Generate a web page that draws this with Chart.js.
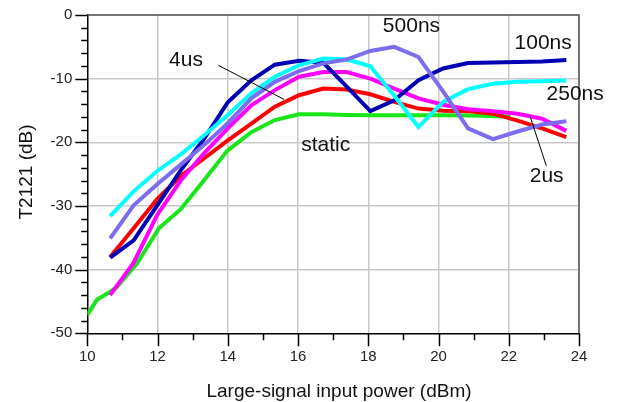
<!DOCTYPE html>
<html>
<head>
<meta charset="utf-8">
<script src="https://cdn.jsdelivr.net/npm/chart.js@4"></script>
<style>
  html, body { margin: 0; padding: 0; background: #ffffff; }
  #wrap { width: 618px; height: 402px; }
</style>
</head>
<body>
<div id="wrap"><canvas id="c" width="618" height="402"></canvas></div>
<script>
// Input power sweep (dBm) shared by the pulsed traces
const xPower = [10.65, 11.32, 11.99, 12.66, 13.33, 14.0, 14.67, 15.34, 16.03, 16.72,
                17.38, 18.06, 18.74, 19.43, 20.13, 20.84, 21.55, 22.25, 22.95, 23.64];

// T2121 (dB) for each pulse width
const t100ns = [-38.1, -35.4, -29.9, -24.4, -19.4, -13.7, -10.25, -7.8, -7.2, -7.5,
                -11.2, -15.1, -13.4, -10.25, -8.4, -7.55, -7.45, -7.4, -7.3, -7.05];
const t250ns = [-31.6, -27.7, -24.5, -21.9, -18.9, -15.7, -12.3, -9.7, -7.9, -6.85,
                -6.95, -8.05, -12.7, -17.6, -13.65, -11.65, -10.8, -10.5, -10.4, -10.3];
const t500ns = [-35.1, -29.9, -26.6, -23.5, -20.4, -17.0, -13.1, -10.5, -8.8, -7.6,
                -7.0, -5.65, -5.0, -6.6, -12.0, -17.8, -19.5, -18.3, -17.2, -16.7];
const t2us   = [-44.0, -38.9, -31.4, -26.0, -21.7, -17.8, -14.2, -11.8, -9.7, -8.95,
                -8.95, -10.0, -11.55, -13.1, -14.1, -14.8, -15.1, -15.5, -16.3, -18.2];
const t4us   = [-38.0, -33.5, -28.9, -25.3, -22.5, -19.7, -17.05, -14.4, -12.6, -11.55,
                -11.7, -12.45, -13.65, -14.7, -15.05, -15.1, -15.5, -16.6, -17.8, -19.2];

// Static (CW) measurement has its own sweep points
const xStatic = [10.0, 10.28, 10.62, 10.85, 11.42, 12.04, 12.66, 13.33, 13.99, 14.67,
                 15.34, 16.03, 16.72, 17.38, 18.06, 18.74, 19.43, 20.13, 20.84, 21.55, 22.05];
const tStatic = [-47.1, -44.7, -43.6, -42.7, -39.0, -33.5, -30.5, -25.9, -21.3, -18.4,
                 -16.5, -15.6, -15.6, -15.7, -15.75, -15.75, -15.75, -15.75, -15.8, -15.85, -15.95];

// Axis tick values
const xTicks = [10, 12, 14, 16, 18, 20, 22, 24];
const yTicks = [0, -10, -20, -30, -40, -50];

// Curve labels: [text, x (dBm), y (dB)]
const curveLabels = [
  ['500ns', 19.23, -1.8],
  ['100ns', 22.98, -4.4],
  ['250ns', 23.89, -12.45],
  ['4us', 12.81, -7.1],
  ['static', 16.79, -20.45],
  ['2us', 23.08, -25.3]
];
// Leader lines: [x1, y1, x2, y2]
const leaders = [
  [13.73, -7.9, 15.6, -13.25],
  [22.6, -15.8, 23.07, -23.7]
];

const pts = (xs, ys) => ys.map((v, i) => ({ x: xs[i], y: v }));

function series(data, color) {
  return {
    data: data,
    borderColor: color,
    backgroundColor: color,
    borderWidth: 4,
    pointRadius: 0,
    tension: 0,
    fill: false,
    borderJoinStyle: 'miter',
    borderCapStyle: 'butt'
  };
}

const FONT = '"Liberation Sans", Arial, sans-serif';

const decor = {
  id: 'decor',
  beforeDatasetsDraw(chart) {
    const ctx = chart.ctx;
    const a = chart.chartArea;
    ctx.save();
    ctx.strokeStyle = '#555555';
    ctx.lineWidth = 1.5;
    ctx.beginPath();
    ctx.moveTo(a.left, a.top);
    ctx.lineTo(a.right, a.top);
    ctx.lineTo(a.right, a.bottom);
    ctx.stroke();
    ctx.restore();
  },
  afterDraw(chart) {
    const ctx = chart.ctx;
    const a = chart.chartArea;
    const xs = chart.scales.x;
    const ys = chart.scales.y;
    ctx.save();
    // tick marks
    ctx.strokeStyle = '#000000';
    ctx.lineWidth = 1.5;
    ctx.beginPath();
    for (let v = -50; v <= 0; v += 2) {
      const py = Math.round(ys.getPixelForValue(v)) + 0.5;
      const len = (v % 10 === 0) ? 12 : 6;
      ctx.moveTo(a.left - len, py);
      ctx.lineTo(a.left, py);
    }
    for (let v = 10; v <= 24; v += 1) {
      const px = Math.round(xs.getPixelForValue(v)) + 0.5;
      const len = (v % 2 === 0) ? 13 : 7;
      ctx.moveTo(px, a.bottom);
      ctx.lineTo(px, a.bottom + len);
    }
    ctx.stroke();

    // leader lines
    ctx.lineWidth = 1;
    ctx.strokeStyle = '#000000';
    ctx.beginPath();
    leaders.forEach(l => {
      ctx.moveTo(xs.getPixelForValue(l[0]), ys.getPixelForValue(l[1]));
      ctx.lineTo(xs.getPixelForValue(l[2]), ys.getPixelForValue(l[3]));
    });
    ctx.stroke();

    // curve labels
    ctx.fillStyle = '#111111';
    ctx.font = '21px ' + FONT;
    ctx.textAlign = 'center';
    ctx.textBaseline = 'middle';
    curveLabels.forEach(t => {
      ctx.fillText(t[0], xs.getPixelForValue(t[1]), ys.getPixelForValue(t[2]));
    });

    // axis titles
    ctx.font = '19px ' + FONT;
    ctx.textBaseline = 'alphabetic';
    ctx.fillText('Large-signal input power (dBm)', 339, 397);
    ctx.translate(31.5, 172);
    ctx.rotate(-Math.PI / 2);
    ctx.fillText('T2121 (dB)', 0, 0);
    ctx.restore();
  }
};

new Chart(document.getElementById('c'), {
  type: 'line',
  data: {
    datasets: [
      series(pts(xPower, t500ns), '#7b6cf0'),
      series(pts(xPower, t250ns), '#00ffff'),
      series(pts(xPower, t100ns), '#0000b4'),
      series(pts(xPower, t2us), '#ff00ff'),
      series(pts(xPower, t4us), '#ff0000'),
      series(pts(xStatic, tStatic), '#19e619')
    ]
  },
  options: {
    responsive: false,
    animation: false,
    events: [],
    layout: { padding: { top: 15, right: 39, bottom: 0, left: 0 } },
    plugins: { legend: { display: false }, tooltip: { enabled: false }, title: { display: false } },
    scales: {
      x: {
        type: 'linear',
        min: 10, max: 24,
        afterFit(s) { s.height = 68.7; s.paddingLeft = 0; s.paddingRight = 0; },
        afterBuildTicks(s) {
          const t = [];
          for (let v = 10; v <= 24; v += 1) t.push({ value: v });
          s.ticks = t;
        },
        ticks: {
          autoSkip: false,
          maxRotation: 0,
          padding: 15,
          color: '#222222',
          font: { family: FONT, size: 15 },
          callback: v => (xTicks.includes(v) ? String(v) : '')
        },
        grid: {
          drawTicks: false,
          lineWidth: 1.5,
          color: c => (c.tick && xTicks.includes(c.tick.value) && c.tick.value !== 10 ? '#c8c8c8' : 'rgba(0,0,0,0)')
        },
        border: { display: true, color: '#000000', width: 1.5 }
      },
      y: {
        type: 'linear',
        min: -50, max: 0,
        afterFit(s) { s.width = 87.3; s.paddingTop = 0; s.paddingBottom = 0; },
        afterBuildTicks(s) {
          const t = [];
          for (let v = -50; v <= 0; v += 2) t.push({ value: v });
          s.ticks = t;
        },
        ticks: {
          autoSkip: false,
          padding: 15,
          color: '#222222',
          font: { family: FONT, size: 15 },
          callback: v => (yTicks.includes(v) ? String(v) : '')
        },
        grid: {
          drawTicks: false,
          lineWidth: 1.5,
          color: c => (c.tick && yTicks.includes(c.tick.value) && c.tick.value !== -50 ? '#c8c8c8' : 'rgba(0,0,0,0)')
        },
        border: { display: true, color: '#000000', width: 1.5 }
      }
    }
  },
  plugins: [decor]
});
</script>
</body>
</html>
